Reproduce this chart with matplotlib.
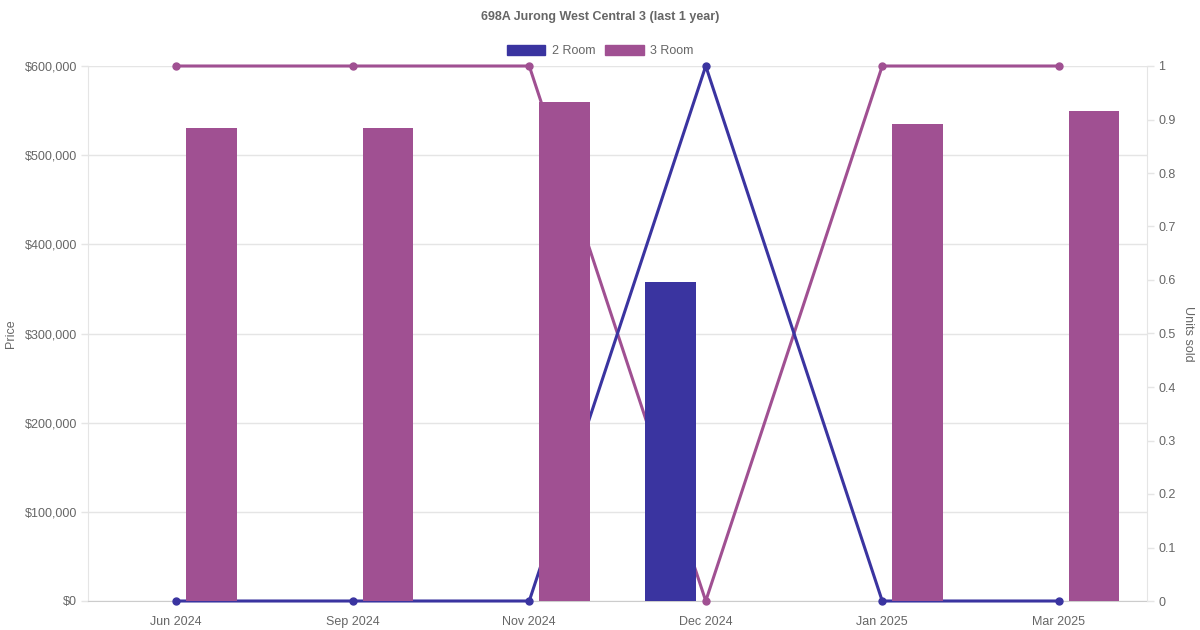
import matplotlib
matplotlib.use("Agg")
import matplotlib.pyplot as plt
from matplotlib.patches import Patch
from matplotlib.ticker import FuncFormatter, MultipleLocator
from matplotlib.transforms import blended_transform_factory
import numpy as np

plt.rcParams['font.family'] = ['Liberation Sans', 'DejaVu Sans']

months = ["Jun 2024", "Sep 2024", "Nov 2024", "Dec 2024", "Jan 2025", "Mar 2025"]
price_2room = [0, 0, 0, 358000, 0, 0]
price_3room = [530000, 531000, 560000, 0, 535000, 550000]
units_2room = [0, 0, 0, 1, 0, 0]
units_3room = [1, 1, 1, 0, 1, 1]

c2 = "#3a34a0"
c3 = "#a05092"
txt = "#666666"
grid = "#e5e5e5"

fig = plt.figure(figsize=(12, 6.3), dpi=100)
ax = fig.add_axes([88/1200, 29/630, (1147-88)/1200, (601-66)/630])
ax2 = ax.twinx()

x = np.arange(len(months))
w = 0.284
off = 0.2

ax.set_xlim(-0.5, 5.5)
ax.set_ylim(0, 600000)
ax2.set_ylim(0, 1)

# price bars on the left axis
ax.bar(x - off, price_2room, width=w, color=c2, zorder=3, linewidth=0)
ax.bar(x + off, price_3room, width=w, color=c3, zorder=3, linewidth=0)

# unit lines use the right-hand scale but sit under the bars
tr = blended_transform_factory(ax.transData, ax2.transData)
ax.plot(x, units_3room, color=c3, lw=2.2, marker="o", ms=5, zorder=2.7, transform=tr, clip_on=False)
ax.plot(x, units_2room, color=c2, lw=2.2, marker="o", ms=5, zorder=2.8, transform=tr, clip_on=False)

ax.yaxis.set_major_locator(MultipleLocator(100000))
ax.yaxis.set_major_formatter(FuncFormatter(lambda v, p: f"${v:,.0f}"))
ax2.yaxis.set_major_locator(MultipleLocator(0.1))
ax2.yaxis.set_major_formatter(FuncFormatter(lambda v, p: "0" if abs(v) < 1e-9 else ("1" if abs(v-1) < 1e-9 else f"{v:.1f}")))

ax.set_xticks(x)
ax.set_xticklabels(months)

ax.grid(axis="y", color=grid, lw=1, zorder=0)
ax.set_axisbelow(True)

for a in (ax, ax2):
    for s in a.spines.values():
        s.set_visible(False)
    a.tick_params(colors=txt, labelsize=9, length=5, width=1)
    a.tick_params(axis="both", color=grid)
ax.spines["bottom"].set_visible(True)
ax.spines["bottom"].set_color("#cccccc")
ax.spines["left"].set_visible(True)
ax.spines["left"].set_color(grid)
ax2.spines["right"].set_visible(True)
ax2.spines["right"].set_color(grid)
ax.tick_params(axis="x", length=0, pad=11)
ax.tick_params(axis="y", pad=3)
ax2.tick_params(axis="y", pad=3)

ax.set_ylabel("Price", color=txt, fontsize=9, va="center")
ax.yaxis.set_label_coords(-77/1059, 0.5)
ax2.set_ylabel("Units sold", color=txt, fontsize=9, rotation=270, va="center")
ax2.yaxis.set_label_coords(1100/1059, 0.5)

fig.text(0.5, 1 - 17/630, "698A Jurong West Central 3 (last 1 year)", ha="center", va="center",
         fontsize=9, fontweight="bold", color=txt)

handles = [Patch(facecolor=c2, edgecolor=c2, label="2 Room"),
           Patch(facecolor=c3, edgecolor=c3, label="3 Room")]
fig.legend(handles=handles, loc="center", bbox_to_anchor=(0.5, 1 - 51/630), ncol=2, frameon=False,
           fontsize=9, labelcolor=txt, handlelength=3.1, handleheight=0.9, columnspacing=0.8, handletextpad=0.5)

fig.savefig("out.png", dpi=100)
